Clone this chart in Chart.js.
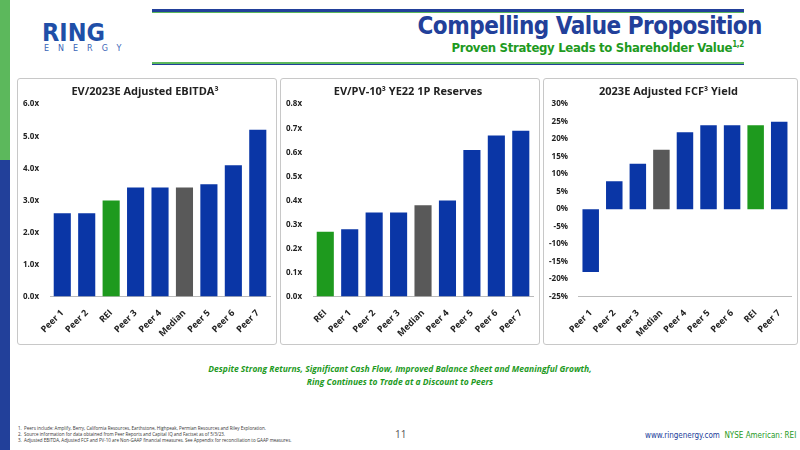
<!DOCTYPE html>
<html><head><meta charset="utf-8">
<script src="https://cdn.jsdelivr.net/npm/chart.js@4"></script>
<style>
body{margin:0;width:800px;height:450px;position:relative;font-family:"Open Sans",Calibri,sans-serif;background:#fff;overflow:hidden}
.box{position:absolute;top:78px;height:267px;border:1px solid #c8c8c8;border-radius:3px;box-sizing:border-box}
.box canvas{position:absolute;left:0;top:0}
</style></head><body>
<div style="position:absolute;left:0;top:0;width:10px;height:160px;background:#5cb85c"></div>
<div style="position:absolute;left:0;top:160px;width:10px;height:290px;background:#22409a"></div>
<div style="position:absolute;left:152px;top:9px;width:592px;height:3px;background:#22409a"></div>
<div style="position:absolute;left:152px;top:12px;width:592px;height:1px;background:#5cb85c"></div>
<div style="position:absolute;left:152px;top:62px;width:592px;height:2px;background:#5cb85c"></div>
<div style="position:absolute;left:152px;top:64px;width:592px;height:1px;background:#22409a"></div>
<div style="position:absolute;left:42px;top:18px;font:bold 25px 'DejaVu Sans Condensed';color:#1f4fa8">RING</div>
<div style="position:absolute;left:44px;top:44px;font:8px 'DejaVu Sans';color:#3a66b8;letter-spacing:9px">ENERGY</div>
<div style="position:absolute;right:38px;top:12px;font:bold 24px 'DejaVu Sans Condensed';color:#22409a;letter-spacing:-0.5px">Compelling Value Proposition</div>
<div style="position:absolute;right:56px;top:40px;font:bold 13px 'DejaVu Sans Condensed';color:#1e9a1e;letter-spacing:-0.3px">Proven Strategy Leads to Shareholder Value<sup style="font-size:8px">1,2</sup></div>
<div class="box" style="left:17px;width:260px"><canvas id="c1" width="260" height="267"></canvas></div>
<div class="box" style="left:280px;width:260px"><canvas id="c2" width="260" height="267"></canvas></div>
<div class="box" style="left:543px;width:255px"><canvas id="c3" width="255" height="267"></canvas></div>
<div style="position:absolute;left:0;width:800px;top:362px;text-align:center;font:italic bold 8.5px 'Open Sans';color:#1e9a1e;line-height:13px">Despite Strong Returns, Significant Cash Flow, Improved Balance Sheet and Meaningful Growth,<br>Ring Continues to Trade at a Discount to Peers</div>
<div style="position:absolute;left:18px;top:425px;font:4.5px 'Open Sans';color:#333;line-height:6px">1.&nbsp; Peers include: Amplify, Berry, California Resources, Earthstone, Highpeak, Permian Resources and Riley Exploration.<br>2.&nbsp; Source information for data obtained from Peer Reports and Capital IQ and Factset as of 5/3/23.<br>3.&nbsp; Adjusted EBITDA, Adjusted FCF and PV-10 are Non-GAAP financial measures. See Appendix for reconciliation to GAAP measures.</div>
<div style="position:absolute;left:395px;top:427px;font:10px 'Open Sans';color:#555">11</div>
<div style="position:absolute;left:645px;top:431px;white-space:nowrap;font:8px 'DejaVu Sans Condensed';color:#22409a">www.ringenergy.com <span style="color:#1e9a1e">&nbsp;NYSE American: REI</span></div>
<script>
const labels1 = ["Peer 1","Peer 2","REI","Peer 3","Peer 4","Median","Peer 5","Peer 6","Peer 7"];
const values1 = [2.6,2.6,3.0,3.4,3.4,3.4,3.5,4.1,5.2];
const labels2 = ["REI","Peer 1","Peer 2","Peer 3","Median","Peer 4","Peer 5","Peer 6","Peer 7"];
const values2 = [0.27,0.28,0.35,0.35,0.38,0.40,0.61,0.67,0.69];
const labels3 = ["Peer 1","Peer 2","Peer 3","Median","Peer 4","Peer 5","Peer 6","REI","Peer 7"];
const values3 = [-18,8,13,17,22,24,24,24,25];

const BLUE = "#0a36a6", GREEN = "#1e9a1e", GREY = "#595959";
function colorsFor(labels) {
    return labels.map(l => l === "REI" ? GREEN : (l === "Median" ? GREY : BLUE));
}

function makeChart(id, labels, values, title, min, max, step, fmt) {
    new Chart(document.getElementById(id), {
        type: "bar",
        data: { labels: labels, datasets: [{ data: values, backgroundColor: colorsFor(labels), barPercentage: 0.7, categoryPercentage: 1 }] },
        options: {
            responsive: false, animation: false,
            layout: { padding: { left: 2, right: 8, top: 2, bottom: 4 } },
            plugins: {
                legend: { display: false },
                title: { display: true, text: title, color: "#222", font: { family: "Open Sans", size: 11, weight: "bold" }, padding: { top: 4, bottom: 6 } }
            },
            scales: {
                x: { grid: { display: false }, border: { color: "#bbb" },
                     ticks: { color: "#222", maxRotation: 45, minRotation: 45, font: { family: "Open Sans", size: 9, weight: "bold" } } },
                y: { min: min, max: max, grid: { display: false }, border: { display: false },
                     ticks: { stepSize: step, color: "#222", font: { family: "Open Sans", size: 8, weight: "bold" }, callback: fmt } }
            }
        }
    });
}

makeChart("c1", labels1, values1, "EV/2023E Adjusted EBITDA³", 0, 6, 1, v => v.toFixed(1) + "x");
makeChart("c2", labels2, values2, "EV/PV-10³ YE22 1P Reserves", 0, 0.8, 0.1, v => v.toFixed(1) + "x");
makeChart("c3", labels3, values3, "2023E Adjusted FCF³ Yield", -25, 30, 5, v => v + "%");
</script>
</body></html>
